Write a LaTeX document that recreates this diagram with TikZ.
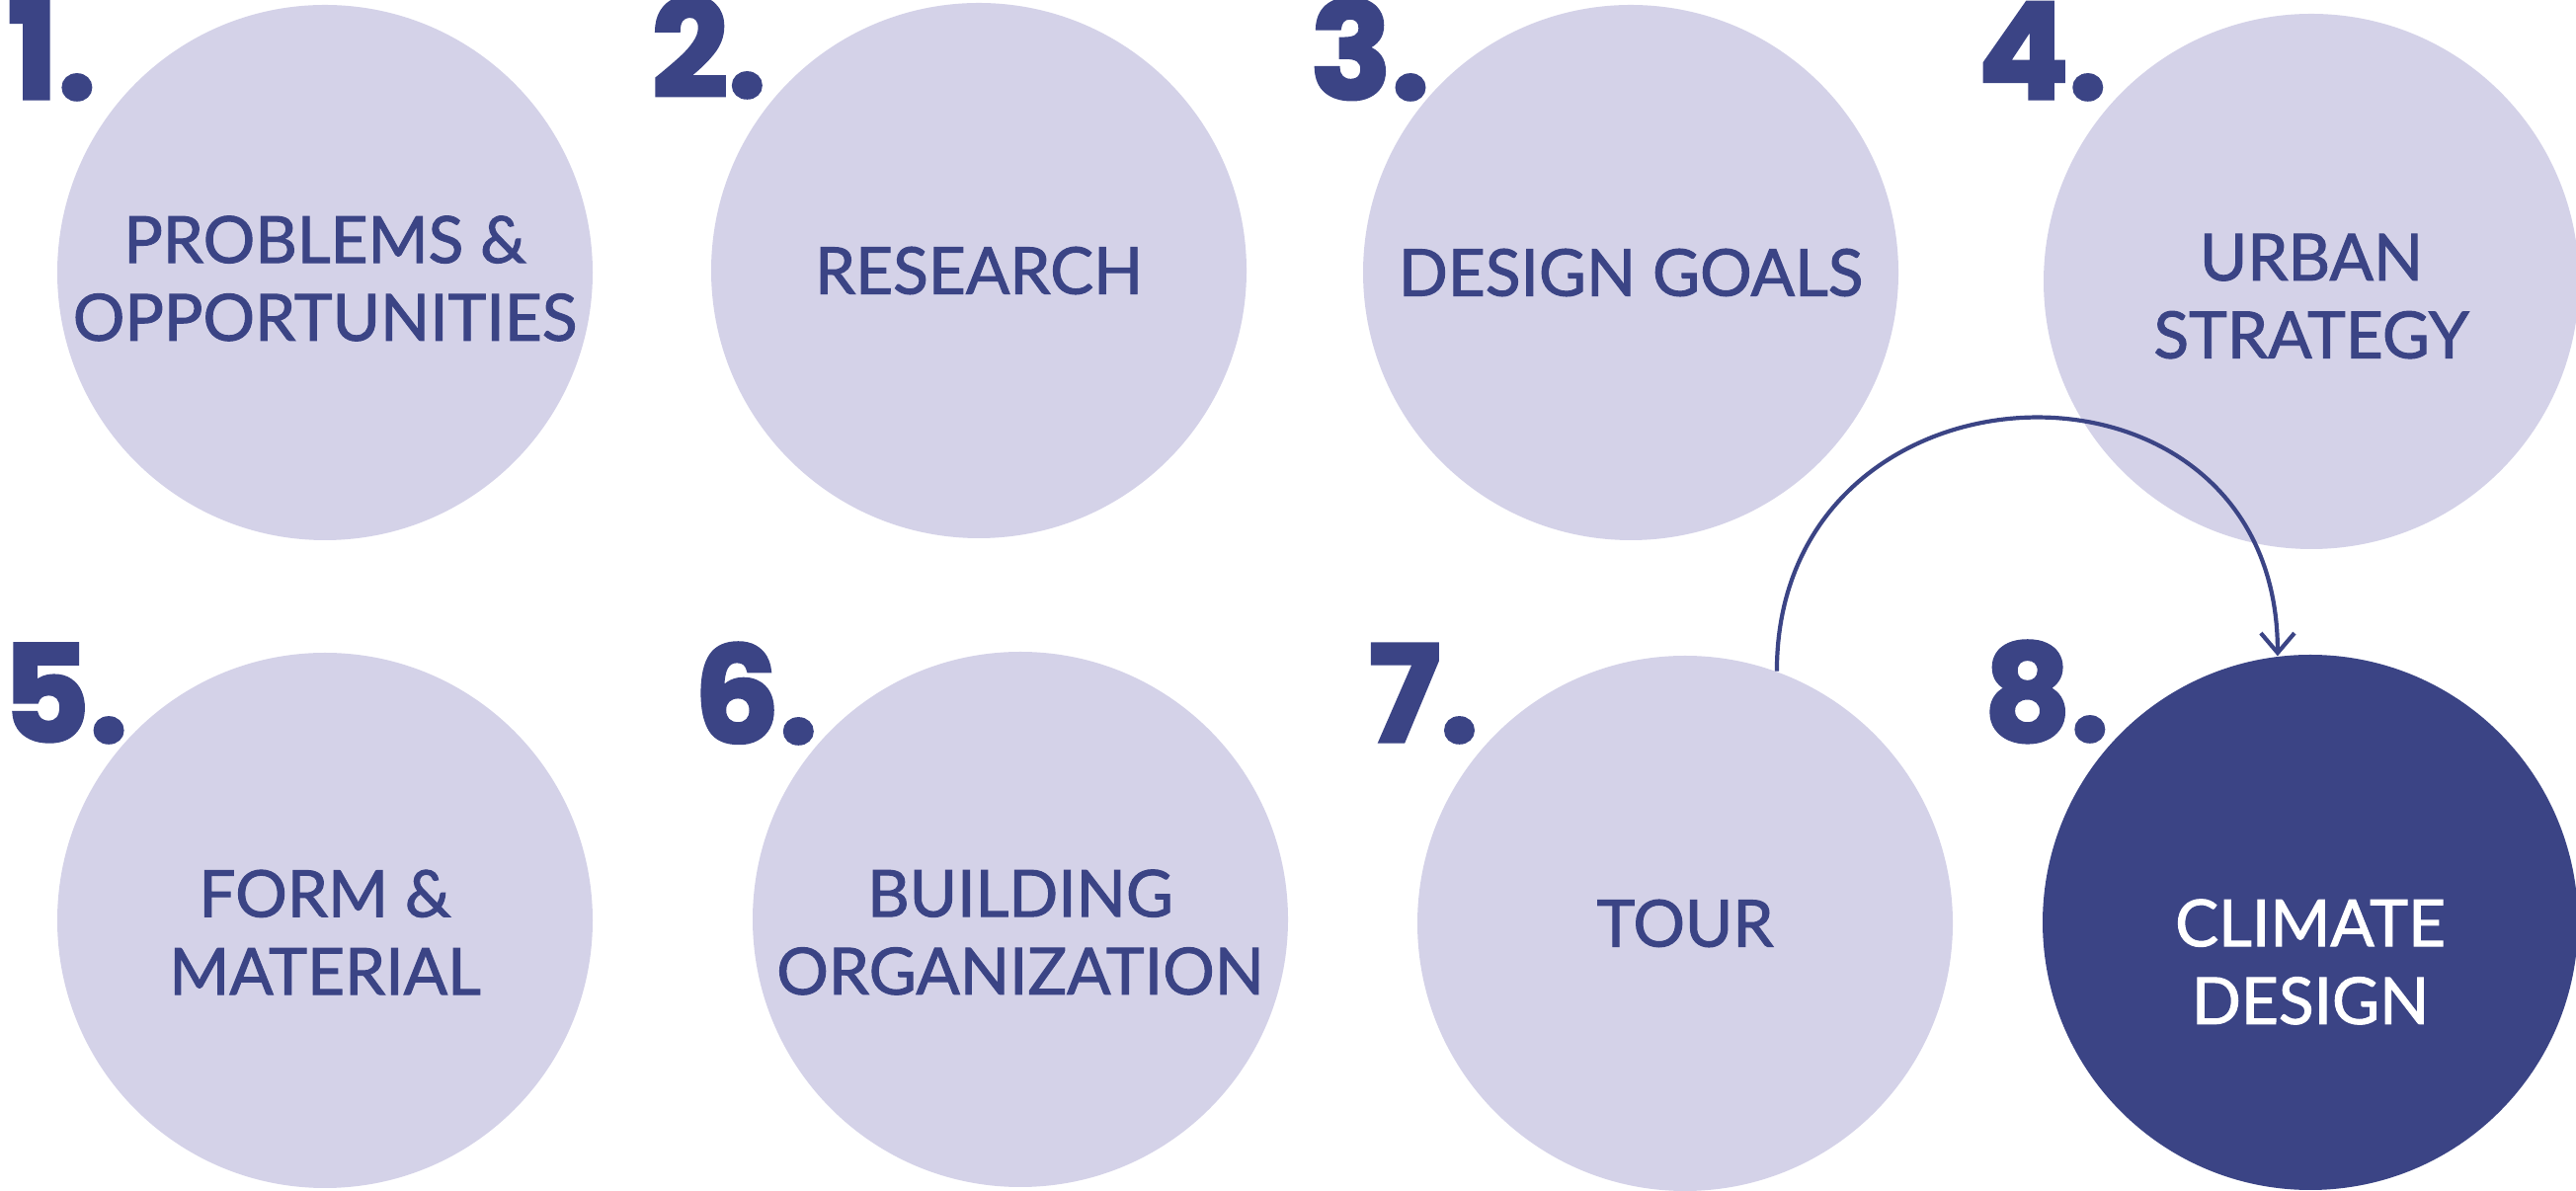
\documentclass[tikz,border=0pt]{standalone}
\usepackage{fontspec}
\setmainfont{Lato}
\newfontfamily\stepfam{Lato}[FakeBold=1.5]
\newfontfamily\numfont{Poppins}[BoldFeatures={FakeBold=2.5}]
\usetikzlibrary{arrows.meta}
\definecolor{lilac}{HTML}{D4D2E8}
\definecolor{deepblue}{HTML}{3B4485}
\newcommand{\stepfont}{\stepfam\fontsize{18.7}{22.4}\selectfont}
\newcommand{\numberfont}{\numfont\bfseries\fontsize{38.6}{40}\selectfont}
\begin{document}
\begin{tikzpicture}[
  x=0.1mm, y=0.1mm,
  stepcircle/.style={circle, fill=lilac, minimum size=54.2mm, inner sep=0pt},
  steptext/.style={text=deepblue, font=\stepfont, align=center, inner sep=0pt},
  stepnum/.style={text=deepblue, font=\numberfont, anchor=base west, inner sep=0pt},
  arrow/.style={-{Straight Barb[length=2mm,width=3.4mm]}, draw=deepblue, line width=0.42mm}
]
\useasboundingbox (0,0) rectangle (2608,1206);
% top row
\node[stepcircle] (s1) at (329,930) {};
\node[stepcircle] (s2) at (991,932) {};
\node[stepcircle] (s3) at (1651,930) {};
\node[stepcircle] (s4) at (2340,921) {};
% bottom row
\node[stepcircle] (s5) at (329,274) {};
\node[stepcircle] (s6) at (1033,275) {};
\node[stepcircle] (s7) at (1706,271) {};
\node[stepcircle, fill=deepblue] (s8) at (2339,272) {};
% labels
\node[steptext] (t1) at ([shift={(0,-6)}]s1.center) {PROBLEMS \&\\OPPORTUNITIES};
\node[steptext] (t2) at (s2.center) {RESEARCH};
\node[steptext] (t3) at (s3.center) {DESIGN GOALS};
\node[steptext] (t4) at ([shift={(0,-15)}]s4.center) {URBAN\\STRATEGY};
\node[steptext] (t5) at ([shift={(0,-12)}]s5.center) {FORM \&\\MATERIAL};
\node[steptext] (t6) at ([shift={(0,-13)}]s6.center) {BUILDING\\ORGANIZATION};
\node[steptext] (t7) at (s7.center) {TOUR};
\node[steptext, text=white] (t8) at ([shift={(0,-40)}]s8.center) {CLIMATE\\DESIGN};
% numbers
\node[stepnum] (n1) at ([shift={(-322,176)}]s1.center) {1.};
\node[stepnum] (n2) at ([shift={(-332,176)}]s2.center) {2.};
\node[stepnum] (n3) at ([shift={(-325,176)}]s3.center) {3.};
\node[stepnum] (n4) at ([shift={(-338,185)}]s4.center) {4.};
\node[stepnum] (n5) at ([shift={(-327,181)}]s5.center) {5.};
\node[stepnum] (n6) at ([shift={(-331,179)}]s6.center) {6.};
\node[stepnum] (n7) at ([shift={(-321,184)}]s7.center) {7.};
\node[stepnum] (n8) at ([shift={(-331,184)}]s8.center) {8.};
% loop back from tour to climate design
\draw[arrow] (s7.70) to[out=90, in=90, looseness=1.67] (s8.97);
\end{tikzpicture}
\end{document}
